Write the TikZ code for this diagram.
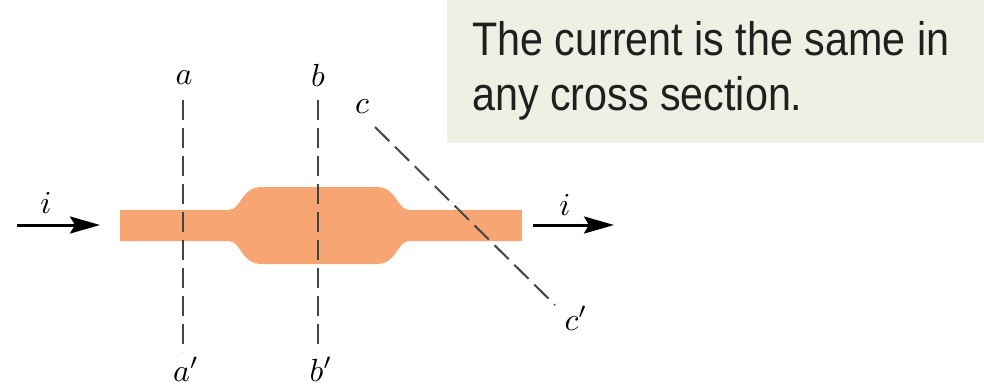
\documentclass[tikz,border=0pt]{standalone}
\usepackage{fontspec}
\usepackage{graphicx}
\setsansfont{Liberation Sans}
\usetikzlibrary{arrows.meta}
\definecolor{copper}{HTML}{F7A673}
\definecolor{callbg}{HTML}{EEF0E4}
\definecolor{dashgray}{HTML}{444444}
\newcommand{\biglbl}[1]{\scalebox{3.2}{$#1$}}
\tikzset{
  lbl/.style={inner sep=0pt},
  secline/.style={draw=dashgray,line width=2pt,dash pattern=on 20pt off 8pt},
  curarrow/.style={draw=black,line width=3pt,-{Stealth[length=30pt,width=17pt,inset=5pt]}},
  calltext/.style={inner sep=0pt,anchor=base west,font=\fontsize{47}{55}\selectfont\sffamily,text=black!88}
}
\begin{document}
\begin{tikzpicture}[x=1pt,y=-1pt]
\useasboundingbox (0,0) rectangle (984,388);
% callout
\fill[callbg] (447,0) rectangle (984,143);
\node[calltext] (t1) at (472,55) {\scalebox{0.878}[1]{The current is the same in}};
\node[calltext] (t2) at (472,110) {\scalebox{0.878}[1]{any cross section.}};
% conductor
\fill[copper] (120,210) -- (228,210) .. controls (242,210) and (240,187) .. (262,187)
  -- (376,187) .. controls (398,187) and (396,210) .. (410,210) -- (522,210)
  -- (522,241) -- (410,241) .. controls (396,241) and (398,264) .. (376,264)
  -- (262,264) .. controls (240,264) and (242,241) .. (228,241) -- (120,241) -- cycle;
% section lines
\coordinate (a1) at (183,100); \coordinate (a2) at (183,352);
\coordinate (b1) at (318,100); \coordinate (b2) at (318,352);
\coordinate (c1) at (375,127); \coordinate (c2) at (555,305);
\draw[secline] (a1) -- (a2);
\draw[secline] (b1) -- (b2);
\draw[secline] (c1) -- (c2);
\node[lbl] (la) at (184,78) {\biglbl{a}};
\node[lbl] (lb) at (318,75) {\biglbl{b}};
\node[lbl] (lc) at (362,107) {\biglbl{c}};
\node[lbl] (lap) at (186,369) {\biglbl{a'}};
\node[lbl] (lbp) at (321,369) {\biglbl{b'}};
\node[lbl] (lcp) at (576,318) {\biglbl{c'}};
% arrows
\coordinate (l1) at (17,225); \coordinate (l2) at (100,225);
\coordinate (r1) at (533,225); \coordinate (r2) at (614,225);
\draw[curarrow] (l1) -- (l2);
\draw[curarrow] (r1) -- (r2);
\node[lbl] (il) at (46,203) {\biglbl{i}};
\node[lbl] (ir) at (565,205) {\biglbl{i}};
\end{tikzpicture}
\end{document}
